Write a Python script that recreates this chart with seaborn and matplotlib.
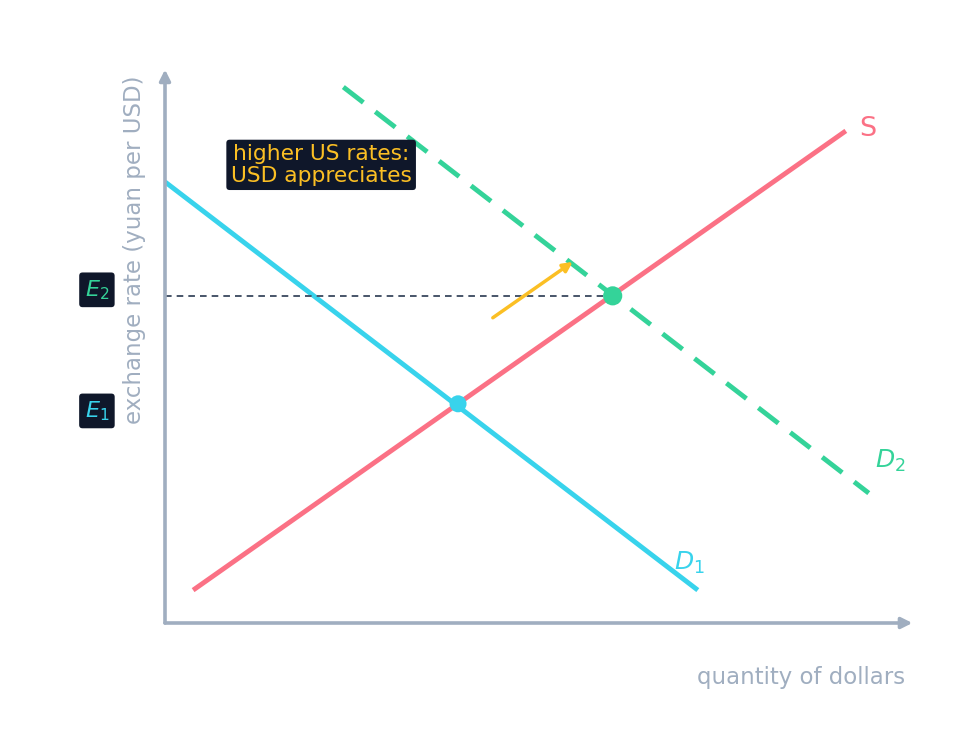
import numpy as np
import pandas as pd
import matplotlib
matplotlib.use("Agg")
import matplotlib.pyplot as plt
import seaborn as sns

# curve end points (quantity, exchange rate)
s_q = [0.38, 9.20]
s_p = [0.60, 8.98]
d1_q = [0.00, 7.20]
d1_p = [8.05, 0.60]
d2_q = [2.41, 9.51]
d2_p = [9.78, 2.37]

# equilibria
eq_names = ["E1", "E2"]
eq_q = [3.96, 6.05]
eq_p = [4.00, 5.97]
eq_label_p = [3.87, 6.08]

# shift arrow
shift_from = (4.43, 5.57)
shift_to = (5.51, 6.59)

ylabel = "exchange rate (yuan per USD)"
xlabel = "quantity of dollars"
note = "higher US rates:\nUSD appreciates"

RED = "#fb7185"
CYAN = "#38d3ec"
GREEN = "#34d399"
YELLOW = "#fbbf24"
AXIS = "#a0aec0"
BOX = "#0f172a"

sns.set_style("white")
plt.rcParams["font.family"] = ["DejaVu Sans"]

fig = plt.figure(figsize=(9.66, 7.56), dpi=100)
ax = fig.add_axes([165 / 966, 1 - 623 / 756, 740 / 966, 548 / 756])

sns.lineplot(x=s_q, y=s_p, ax=ax, color=RED, lw=3.5, solid_capstyle="butt")
sns.lineplot(x=d1_q, y=d1_p, ax=ax, color=CYAN, lw=3.5, solid_capstyle="butt")
ln = sns.lineplot(x=d2_q, y=d2_p, ax=ax, color=GREEN, lw=3.5).lines[-1]
ln.set_dashes((5.2, 3.1))

# dotted guide to E2
ax.plot([0, eq_q[1]], [eq_p[1], eq_p[1]], color="#475569", lw=1.4, ls=(0, (3.4, 2.6)))

sns.scatterplot(x=eq_q, y=eq_p, hue=eq_names, palette=[CYAN, GREEN], s=[150, 190],
                edgecolor="none", legend=False, ax=ax, zorder=5)

# axes arrows
arr = dict(arrowstyle="-|>", color=AXIS, lw=2.6, mutation_scale=16, shrinkA=0, shrinkB=0)
ax.annotate("", xy=(10.1, 0), xytext=(0, 0), arrowprops=arr, annotation_clip=False)
ax.annotate("", xy=(0, 10.1), xytext=(0, 0), arrowprops=arr, annotation_clip=False)

# shift arrow
ax.annotate("", xy=shift_to, xytext=shift_from,
            arrowprops=dict(arrowstyle="-|>", color=YELLOW, lw=2.5, mutation_scale=14,
                            shrinkA=0, shrinkB=0, capstyle="round"))

ax.text(2.11, 8.36, note, color=YELLOW, fontsize=15.7, ha="center", va="center",
        multialignment="center", linespacing=1.1,
        bbox=dict(boxstyle="round,pad=0.2,rounding_size=0.15", fc=BOX, ec="none"))

ax.text(9.50, 9.01, "S", color=RED, fontsize=19.5, ha="center", va="center")
ax.text(7.09, 1.09, "$D_1$", color=CYAN, fontsize=18, ha="center", va="center")
ax.text(9.80, 2.96, "$D_2$", color=GREEN, fontsize=18, ha="center", va="center")

for name, p, c in zip(eq_names, eq_label_p, [CYAN, GREEN]):
    ax.text(-0.92, p, f"${name[0]}_{name[1]}$", color=c, fontsize=16, ha="center", va="center",
            bbox=dict(boxstyle="round,pad=0.25,rounding_size=0.15", fc=BOX, ec="none"))

ax.set_xlim(0, 10)
ax.set_ylim(0, 10)
ax.set_xticks([])
ax.set_yticks([])
for sp in ax.spines.values():
    sp.set_visible(False)

ax.set_ylabel(ylabel, loc="top", color=AXIS, fontsize=16.5)
ax.yaxis.set_label_coords(-0.025, 1.0)
ax.set_xlabel(xlabel, loc="right", color=AXIS, fontsize=16.5)
ax.xaxis.set_label_coords(1.0, -0.078)

fig.savefig("out.png", dpi=100, facecolor="white")
